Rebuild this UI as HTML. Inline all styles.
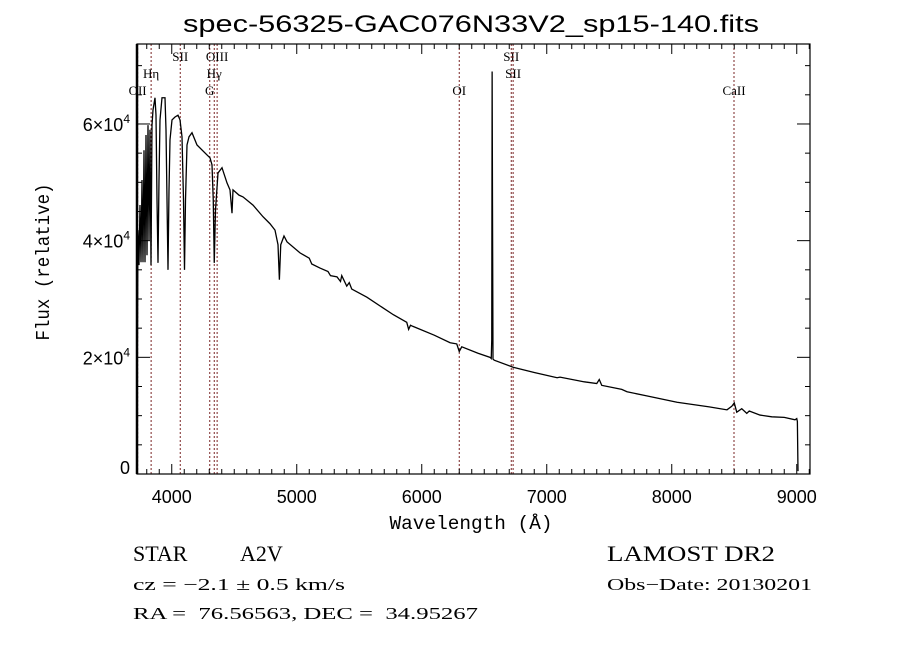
<!DOCTYPE html>
<html><head><meta charset="utf-8"><style>
html,body{margin:0;padding:0;background:#fff;}
svg{display:block;}
</style></head><body>
<svg id="chart" width="900" height="649" xmlns="http://www.w3.org/2000/svg">
<rect width="900" height="649" fill="#fff"/>
<text x="471" y="32" text-anchor="middle" font-family="Liberation Sans, sans-serif" font-size="24" textLength="576" lengthAdjust="spacingAndGlyphs">spec-56325-GAC076N33V2_sp15-140.fits</text>
<g id="lines"></g>
<g id="spec"></g>
<g id="axes"></g>
<text x="471" y="529" text-anchor="middle" font-family="Liberation Mono, monospace" font-size="19" textLength="163" lengthAdjust="spacingAndGlyphs">Wavelength (Å)</text>
<text transform="translate(49,262) rotate(-90)" text-anchor="middle" font-family="Liberation Mono, monospace" font-size="19" textLength="157" lengthAdjust="spacingAndGlyphs">Flux (relative)</text>
<g font-family="Liberation Serif, serif" fill="#000">
<text x="133" y="561" font-size="22">STAR</text>
<text x="240" y="561" font-size="22">A2V</text>
<text x="607" y="561" font-size="22" textLength="168" lengthAdjust="spacingAndGlyphs">LAMOST DR2</text>
<text x="133" y="590" font-size="17" textLength="212" lengthAdjust="spacingAndGlyphs">cz = −2.1 ± 0.5 km/s</text>
<text x="607" y="590" font-size="17" textLength="205" lengthAdjust="spacingAndGlyphs">Obs−Date: 20130201</text>
<text x="133" y="619" font-size="17" textLength="345" lengthAdjust="spacingAndGlyphs" xml:space="preserve">RA =  76.56563, DEC =  34.95267</text>
</g>
</svg>
<script>
var waves = [3722,3723,3730,3738,3746,3754,3762,3770,3778,3786,3794,3802,3810,3818,3826,3834,3842,3850,3866,3874,3882,3890,3898,3906,3922,3946,3954,3962,3970,3978,3986,4002,4026,4050,4066,4082,4094,4102,4110,4122,4138,4162,4202,4282,4306,4322,4332,4340,4350,4370,4402,4442,4466,4482,4490,4538,4570,4650,4730,4786,4826,4850,4861,4872,4898,4922,5026,5100,5120,5186,5250,5270,5322,5350,5360,5400,5420,5440,5561,5773,5880,5895,5910,5930,6100,6227,6280,6300,6320,6450,6546,6556,6560,6563,6566,6570,6580,6731,6900,7083,7106,7300,7400,7420,7440,7600,7642,7800,8042,8300,8442,8480,8500,8520,8560,8600,8620,8706,8800,8900,8986,9000,9005,9010];
var fluxes = [0.0,1.5,4.18,3.58,4.61,3.63,5.04,3.63,5.55,3.63,5.81,3.75,5.98,4.01,5.90,3.58,5.98,6.24,6.45,6.15,4.70,3.62,5.04,6.07,6.45,6.45,5.90,4.70,3.50,4.87,5.73,6.07,6.12,6.15,6.07,5.78,4.70,3.50,4.70,5.64,5.78,5.85,5.64,5.47,5.42,5.30,4.70,3.62,4.53,5.16,5.25,4.99,4.87,4.47,4.87,4.78,4.75,4.61,4.41,4.29,4.18,3.93,3.33,3.93,4.08,3.98,3.79,3.70,3.60,3.53,3.47,3.40,3.38,3.30,3.40,3.22,3.28,3.17,3.03,2.73,2.60,2.48,2.55,2.53,2.38,2.25,2.23,2.10,2.18,2.07,2.00,1.98,2.30,6.90,4.60,1.97,1.95,1.83,1.74,1.65,1.66,1.58,1.55,1.62,1.52,1.45,1.41,1.34,1.23,1.15,1.10,1.16,1.22,1.06,1.12,1.04,1.08,1.01,0.98,0.97,0.93,0.95,0.90,0.05];
var lineWaves = [3727,3835,4068,4304,4340,4363,6300,6716,6731,8498];
var lineNames = ["OII","Hη","SII","G","Hγ","OIII","OI","SII","SII","CaII"];
var lineRows = [2,1,0,2,1,0,2,0,1,2];
var yTickVals = [0,2,4,6];
var xTickVals = [4000,5000,6000,7000,8000,9000];

var L=137,R=810,T=44,B=474;
var XMIN=3722,XMAX=9106,YMAX=7.371;
function xs(w){return L+(w-XMIN)/(XMAX-XMIN)*(R-L);}
function ys(f){return B-f/YMAX*(B-T);}
var NS='http://www.w3.org/2000/svg';
function mk(tag,attrs,parent){var e=document.createElementNS(NS,tag);for(var k in attrs)e.setAttribute(k,attrs[k]);parent.appendChild(e);return e;}

var lg=document.getElementById('lines');
for(var i=0;i<lineWaves.length;i++){
  var x=xs(lineWaves[i]);
  var ln=mk('line',{x1:x,x2:x,y1:T,y2:B,stroke:'#7a2424','stroke-width':1,'stroke-dasharray':'2,2'},lg);
  
  
  var t=mk('text',{x:x,y:61+lineRows[i]*17,'text-anchor':'middle','font-family':'Liberation Serif, serif','font-size':13},lg);
  t.textContent=lineNames[i];
  
  
}

var sg=document.getElementById('spec');
var d='';
for(var i=0;i<waves.length;i++){d+=(i?'L':'M')+xs(waves[i]).toFixed(2)+' '+ys(fluxes[i]).toFixed(2);}
var p=mk('path',{d:d,fill:'none',stroke:'#000','stroke-width':1.3,'stroke-linejoin':'miter'},sg);



var ag=document.getElementById('axes');
var fr=mk('rect',{x:L,y:T,width:R-L,height:B-T,fill:'none',stroke:'#000','stroke-width':1.2},ag);


mk('line',{x1:L,x2:L,y1:T,y2:B,stroke:'#000','stroke-width':2.5},ag);
for(var w=3800;w<=XMAX;w+=100){
  var x=xs(w),major=(w%1000===0),len=major?10:5;
  mk('line',{x1:x,x2:x,y1:B,y2:B-len,stroke:'#000','stroke-width':1},ag);
  mk('line',{x1:x,x2:x,y1:T,y2:T+len,stroke:'#000','stroke-width':1},ag);
}
for(var i=0;i<xTickVals.length;i++){
  var t=mk('text',{x:xs(xTickVals[i]),y:503,'text-anchor':'middle','font-family':'Liberation Sans, sans-serif','font-size':18},ag);
  t.textContent=String(xTickVals[i]);
  
  
}
for(var v=0;v<=YMAX;v+=0.5){
  var y=ys(v),major=(Math.abs(v%2)<1e-9),len=major?13:5;
  mk('line',{x1:L,x2:L+len,y1:y,y2:y,stroke:'#000','stroke-width':1},ag);
  mk('line',{x1:R,x2:R-len,y1:y,y2:y,stroke:'#000','stroke-width':1},ag);
}
for(var i=0;i<yTickVals.length;i++){
  var v=yTickVals[i],y=ys(v);
  var t=mk('text',{x:130,y:y+(v===0?0:7),'text-anchor':'end','font-family':'Liberation Sans, sans-serif','font-size':18},ag);
  if(v===0){t.textContent='0';}
  else{
    t.textContent=v+'×10';
    var s=mk('tspan',{dy:-8,'font-size':12},t);s.textContent='4';
  }
  
  
}
</script>
</body></html>
